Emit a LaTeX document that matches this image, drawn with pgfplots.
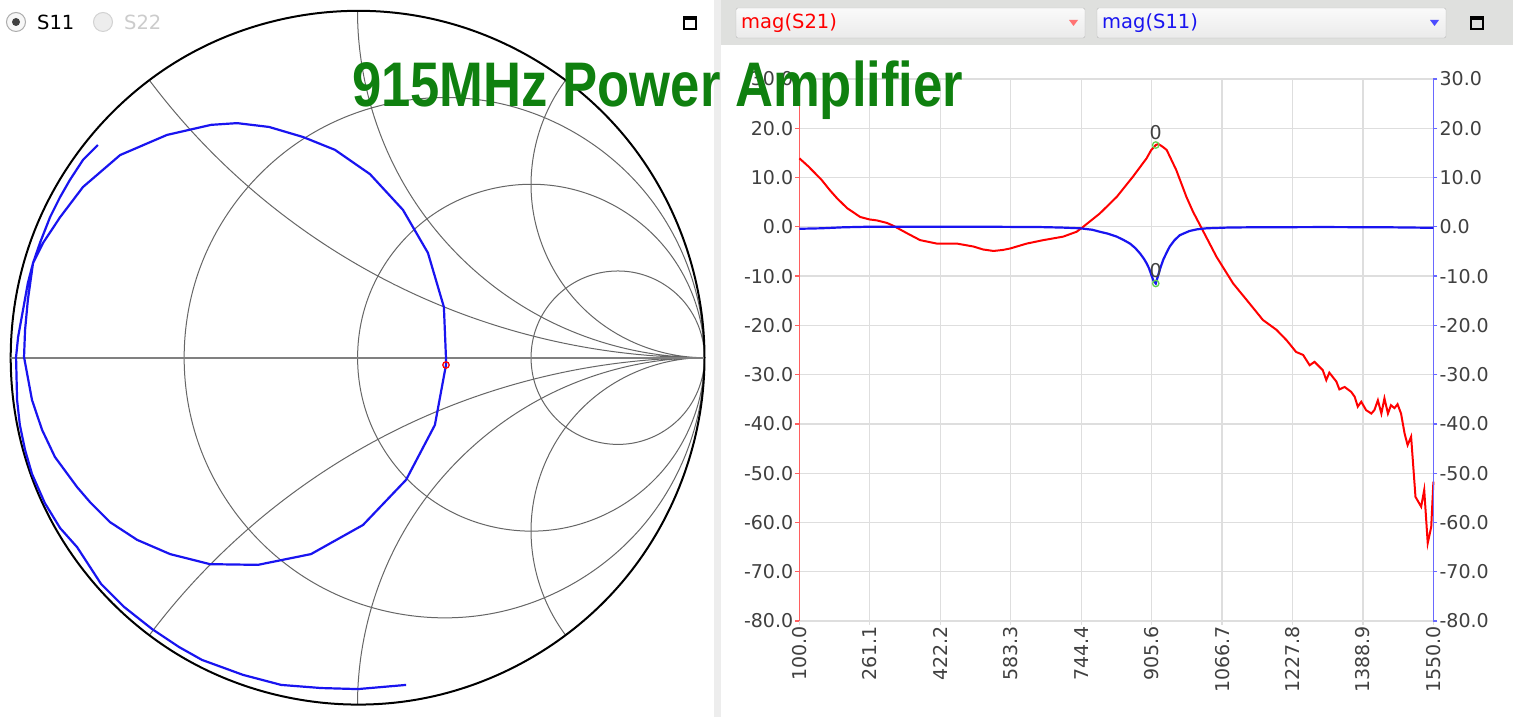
\documentclass[border=0pt]{standalone}
\usepackage{fontspec}
\setmainfont{DejaVu Sans}
\newfontfamily\titlefont{Liberation Sans}
\usepackage{graphicx}
\usepackage{pgfplots}
\pgfplotsset{compat=1.18}
\usepgfplotslibrary{smithchart}

\definecolor{tickgray}{RGB}{64,64,64}
\definecolor{gridgray}{RGB}{222,222,222}
\definecolor{axred}{RGB}{255,95,95}
\definecolor{axblue}{RGB}{105,105,255}
\definecolor{s21red}{RGB}{255,0,0}
\definecolor{s11blue}{RGB}{25,20,240}
\definecolor{titlegreen}{RGB}{15,128,15}
\definecolor{mkgreen}{RGB}{100,210,80}
\definecolor{headgray}{RGB}{223,224,222}

\newcommand{\uifont}{\fontsize{19.5}{23}\selectfont}
\newcommand{\tickfont}{\fontsize{19}{22}\selectfont}

\begin{document}
\begin{tikzpicture}

% window chrome
\begin{scope}[x=1pt,y=1pt]
  \useasboundingbox (0,0) rectangle (1513,717);
  \fill[white] (0,0) rectangle (1513,717);
  \fill[gray!14] (714,0) rectangle (721,717);
  \fill[headgray] (721,672) rectangle (1513,717);
  % combo boxes
  \shade[top color=gray!4, bottom color=gray!16, draw=gray!55, rounded corners=2pt]
    (736,679) rectangle (1085,709);
  \shade[top color=gray!4, bottom color=gray!16, draw=gray!55, rounded corners=2pt]
    (1097,679) rectangle (1446,709);
  \node[anchor=west, inner sep=0, text=s21red, font=\uifont] at (741,694) {mag(S21)};
  \node[anchor=west, inner sep=0, text=s11blue, font=\uifont] at (1102,694) {mag(S11)};
  \fill[red!55] (1069,697) -- (1078,697) -- (1073.5,691) -- cycle;
  \fill[blue!70] (1430,697) -- (1439,697) -- (1434.5,691) -- cycle;
  % maximise icons
  \draw[line width=1.4] (1471,688) rectangle (1483,700);
  \fill (1471,697) rectangle (1483,700);
  \draw[line width=1.4] (684,688) rectangle (696,700);
  \fill (684,697) rectangle (696,700);
  % radio buttons
  \draw[gray!65, fill=gray!6, line width=1] (16,695) circle (9.5);
  \fill[black!75] (16,695) circle (4);
  \node[anchor=west, inner sep=0, font=\uifont] at (37,695) {S11};
  \draw[gray!35, fill=gray!14, line width=1] (103,695) circle (9.5);
  \node[anchor=west, inner sep=0, font=\uifont, text=gray!40] at (124,695) {S22};
\end{scope}

% Smith chart, S11 in reflection coordinates
\begin{smithchart}[
  at={(357.5pt,359.3pt)}, anchor=center,
  scale only axis, width=694pt, height=694pt,
  xtick={0.333333,1,3},
  ytick={-2,-1,-0.5,0.5,1,2},
  xticklabels={}, yticklabels={},
  show origin=false,
  show origin code/.code={},
  major tick length=0pt,
  grid style={black, line width=1pt},
  major grid style={black, line width=1pt},
  minor grid style={black, line width=1pt},
  axis line style={black, line width=2pt},
]
  \addplot[is smithchart cs, black!50, line width=2pt] coordinates {(-1,0) (1,0)};
  \addplot[is smithchart cs, s11blue, line width=2.2pt] coordinates {
    (0.140,-0.943) (0.001,-0.955) (-0.105,-0.952) (-0.220,-0.943) (-0.330,-0.914)
    (-0.448,-0.871) (-0.514,-0.834) (-0.592,-0.782) (-0.673,-0.718) (-0.739,-0.652)
    (-0.808,-0.546) (-0.857,-0.491) (-0.901,-0.419) (-0.938,-0.335) (-0.958,-0.266)
    (-0.973,-0.194) (-0.981,-0.122) (-0.984,0.002) (-0.978,0.060) (-0.964,0.137)
    (-0.950,0.215) (-0.935,0.273) (-0.906,0.331) (-0.857,0.405) (-0.791,0.492)
    (-0.684,0.584) (-0.549,0.642) (-0.422,0.671) (-0.347,0.676) (-0.255,0.665)
    (-0.157,0.636) (-0.065,0.599) (0.036,0.529) (0.131,0.426) (0.203,0.302)
    (0.249,0.146) (0.255,-0.001) (0.255,-0.021) (0.223,-0.194) (0.140,-0.352)
    (0.016,-0.482) (-0.134,-0.566) (-0.287,-0.597) (-0.425,-0.595) (-0.540,-0.566)
    (-0.635,-0.525) (-0.713,-0.474) (-0.771,-0.416) (-0.808,-0.373) (-0.872,-0.286)
    (-0.909,-0.208) (-0.938,-0.122) (-0.961,0.002) (-0.958,0.080) (-0.950,0.166)
    (-0.935,0.273) (-0.915,0.331) (-0.886,0.405) (-0.857,0.463) (-0.829,0.512)
    (-0.791,0.570) (-0.748,0.613)
  };
  \addplot[is smithchart cs, only marks, mark=o, mark size=3.2pt, red, line width=1.3pt]
    coordinates {(0.255,-0.021)};
\end{smithchart}

% left axis: mag(S21) in dB
\begin{axis}[
  at={(799.4pt,96pt)}, anchor=south west,
  scale only axis, width=634pt, height=542pt,
  xmin=100, xmax=1550, ymin=-80, ymax=30,
  axis x line*=bottom, axis y line*=left,
  x axis line style={draw=none},
  y axis line style={axred, line width=1.3pt},
  xtick={100,261.1,422.2,583.3,744.4,905.6,1066.7,1227.8,1388.9,1550},
  xticklabels={100.0,261.1,422.2,583.3,744.4,905.6,1066.7,1227.8,1388.9,1550.0},
  ytick={-80,-70,-60,-50,-40,-30,-20,-10,0,10,20,30},
  yticklabels={-80.0,-70.0,-60.0,-50.0,-40.0,-30.0,-20.0,-10.0,0.0,10.0,20.0,30.0},
  tick align=outside, major tick length=4pt,
  xtick style={gridgray, line width=1.3pt},
  ytick style={axred, line width=1.2pt},
  grid=major, major grid style={gridgray, line width=1.3pt},
  ticklabel style={font=\tickfont, text=tickgray},
  xticklabel style={rotate=90, anchor=east, inner sep=1pt},
  yticklabel style={inner sep=2pt},
  clip=false,
]
  \addplot[s21red, line width=2pt] coordinates {
    (100,13.9) (120,12.3) (150,9.6) (170,7.4) (186,5.8) (209,3.8) (239,2.0)
    (260,1.5) (277,1.3) (300,0.8) (315,0.2) (346,-1.3) (376,-2.7) (414,-3.4)
    (440,-3.4) (460,-3.4) (498,-4.0) (520,-4.6) (544,-4.9) (565,-4.7) (582,-4.4)
    (620,-3.4) (658,-2.7) (703,-2.0) (734,-1.0) (749,0.0) (787,2.7) (826,6.1)
    (863,10.2) (894,13.9) (904,15.5) (915,16.6) (921,16.8) (930,16.3) (940,15.6)
    (962,11.5) (985,6.1) (1000,3.1) (1020,-0.3) (1054,-6.1) (1092,-11.5)
    (1128,-15.4) (1160,-18.9) (1191,-20.9) (1214,-23.0) (1236,-25.4) (1252,-26.0)
    (1267,-28.1) (1278,-27.4) (1297,-29.1) (1305,-31.1) (1312,-29.6) (1328,-31.4)
    (1335,-33.0) (1347,-32.5) (1362,-33.5) (1370,-34.5) (1377,-36.5) (1385,-35.5)
    (1396,-37.2) (1408,-37.9) (1415,-37.2) (1423,-35.2) (1431,-37.9) (1438,-34.8)
    (1446,-37.9) (1453,-36.2) (1461,-36.8) (1468,-36.0) (1476,-37.9) (1484,-41.9)
    (1491,-44.3) (1499,-42.6) (1509,-54.8) (1522,-56.8) (1529,-53.4) (1537,-64.2)
    (1545,-60.9) (1550,-51.7)
  };
  \addplot[only marks, mark=o, mark size=3.2pt, mkgreen, line width=1.3pt]
    coordinates {(915,16.6)};
  \node[anchor=base, inner sep=0, font=\tickfont, text=tickgray]
    at (axis cs:915,16.6) [yshift=6pt] {0};
\end{axis}

% right axis: mag(S11) in dB
\begin{axis}[
  at={(799.4pt,96pt)}, anchor=south west,
  scale only axis, width=634pt, height=542pt,
  xmin=100, xmax=1550, ymin=-80, ymax=30,
  axis x line=none, axis y line*=right,
  y axis line style={axblue, line width=1.3pt},
  ytick={-80,-70,-60,-50,-40,-30,-20,-10,0,10,20,30},
  yticklabels={-80.0,-70.0,-60.0,-50.0,-40.0,-30.0,-20.0,-10.0,0.0,10.0,20.0,30.0},
  tick align=outside, major tick length=4pt,
  ytick style={axblue, line width=1.2pt},
  ticklabel style={font=\tickfont, text=tickgray},
  yticklabel style={inner sep=2pt},
  clip=false,
]
  \addplot[s11blue, line width=2.2pt] coordinates {
    (100,-0.4) (150,-0.3) (200,-0.1) (250,0.0) (400,0.0) (550,0.0) (650,-0.05)
    (700,-0.15) (742,-0.3) (770,-0.6) (787,-1.0) (806,-1.4) (826,-2.0) (842,-2.7)
    (856,-3.4) (868,-4.3) (879,-5.4) (888,-6.5) (894,-7.4) (900,-8.5) (905,-9.8)
    (910,-11.0) (915,-11.5) (919,-10.3) (925,-8.5) (932,-6.7) (940,-5.2) (947,-4.0)
    (958,-2.7) (970,-1.7) (992,-0.85) (1010,-0.5) (1031,-0.3) (1080,-0.15)
    (1130,-0.1) (1300,-0.05) (1450,-0.1) (1550,-0.2)
  };
  \addplot[only marks, mark=o, mark size=3.2pt, mkgreen, line width=1.3pt]
    coordinates {(915,-11.5)};
  \node[anchor=base, inner sep=0, font=\tickfont, text=tickgray]
    at (axis cs:915,-11.5) [yshift=6pt] {0};
\end{axis}

% title across both panels
\node[anchor=base west, inner sep=0, text=titlegreen] at (352pt,610pt)
  {\scalebox{0.835}[1]{\titlefont\bfseries\fontsize{63}{70}\selectfont 915MHz Power Amplifier}};

\end{tikzpicture}
\end{document}
